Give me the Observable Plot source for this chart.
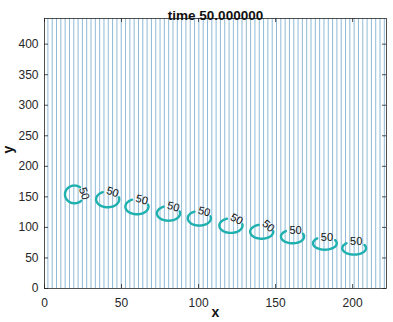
<!DOCTYPE html>
<html><head><meta charset="utf-8">
<script src="https://cdn.jsdelivr.net/npm/d3@7"></script>
<script src="https://cdn.jsdelivr.net/npm/@observablehq/plot@0.6"></script>
<style>body{margin:0;background:#fff}</style>
</head><body><div id="chart"></div>
<script>
const titleText = "time 50.000000";
const xTicks = [0, 50, 100, 150, 200];
const yTicks = [0, 50, 100, 150, 200, 250, 300, 350, 400];
const xDomain = [0, 222];
const yDomain = [0, 442];
// background contour lines (vertical)
const lineX = [2.2, 5.0, 7.8, 10.6, 13.4, 16.2, 19.0, 21.8, 24.6, 27.4, 30.2, 33.0, 35.8, 38.6, 41.4, 44.2, 47.0, 49.8, 52.6, 55.4, 58.2, 61.0, 63.8, 66.6, 69.4, 72.2, 75.0, 77.8, 80.6, 83.4, 86.2, 89.0, 91.8, 94.6, 97.4, 100.2, 103.0, 105.8, 108.6, 111.4, 114.2, 117.0, 119.8, 122.6, 125.4, 128.2, 131.0, 133.8, 136.6, 139.4, 142.2, 145.0, 147.8, 150.6, 153.4, 156.2, 159.0, 161.8, 164.6, 167.4, 170.2, 173.0, 175.8, 178.6, 181.4, 184.2, 187.0, 189.8, 192.6, 195.4, 198.2, 201.0, 203.8, 206.6, 209.4, 212.2, 215.0, 217.8, 220.6];
// contour "50" rings
const ringCx = [19.5, 41, 60, 80.5, 100.5, 121, 141, 161, 182, 201];
const ringCy = [154, 146, 134, 123, 115, 103, 93, 85, 74, 66];
const ringRx = [6.2, 7.5, 7.5, 7.5, 7.5, 7.5, 7.5, 7.5, 7.7, 7.7];
const ringRy = [14.5, 13, 12.5, 12, 12, 12, 11.5, 11, 10.5, 10.5];
const labelTheta = [5, 65, 65, 65, 65, 60, 55, 75, 80, 80];
const labelRotate = [70, 18, 15, 15, 15, 28, 40, 0, 0, 0];
const ringLabel = ["50", "50", "50", "50", "50", "50", "50", "50", "50", "50"];
const gapHalf = 50;

const rad = Math.PI / 180;
const ringPts = [];
ringCx.forEach((cx, i) => {
  for (let a = labelTheta[i] + gapHalf; a <= labelTheta[i] + 360 - gapHalf; a += 4) {
    ringPts.push({id: i, x: cx + ringRx[i] * Math.cos(a * rad), y: ringCy[i] + ringRy[i] * Math.sin(a * rad)});
  }
});
const labels = ringCx.map((cx, i) => ({
  x: cx + ringRx[i] * Math.cos(labelTheta[i] * rad),
  y: ringCy[i] + ringRy[i] * Math.sin(labelTheta[i] * rad),
  t: ringLabel[i], r: labelRotate[i]
}));

const W = 393, H = 322;
const mL = 44, mR = 7, mT = 18, mB = 34;
const tx = (xDomain[1] - xDomain[0]) * 4 / (W - mL - mR);
const ty = (yDomain[1] - yDomain[0]) * 4 / (H - mT - mB);
const axisColor = "#262626";
const font = "Liberation Sans, Arial, Helvetica, sans-serif";

const chart = Plot.plot({
  width: W, height: H,
  marginLeft: mL, marginRight: mR, marginTop: mT, marginBottom: mB,
  style: {fontFamily: font, fontSize: "12px", color: axisColor, background: "#fff"},
  x: {domain: xDomain, ticks: xTicks},
  y: {domain: yDomain, ticks: yTicks},
  marks: [
    Plot.ruleX(lineX, {stroke: "#4f92c0", strokeWidth: 0.75, strokeOpacity: 0.85}),
    Plot.line(ringPts, {x: "x", y: "y", z: "id", stroke: "#1fb0b0", strokeWidth: 2.4, curve: "catmull-rom"}),
    Plot.text(labels, {x: "x", y: "y", text: "t", rotate: "r", fontSize: 11, fill: "#111"}),
    Plot.frame({stroke: axisColor, strokeWidth: 0.8}),
    Plot.ruleY(yTicks, {x1: xDomain[0], x2: xDomain[0] + tx, stroke: axisColor, strokeWidth: 0.8}),
    Plot.ruleY(yTicks, {x1: xDomain[1] - tx, x2: xDomain[1], stroke: axisColor, strokeWidth: 0.8}),
    Plot.ruleX(xTicks, {y1: yDomain[0], y2: yDomain[0] + ty, stroke: axisColor, strokeWidth: 0.8}),
    Plot.ruleX(xTicks, {y1: yDomain[1] - ty, y2: yDomain[1], stroke: axisColor, strokeWidth: 0.8}),
    Plot.axisX({ticks: xTicks, tickSize: 0, tickPadding: 10, label: null, fontSize: 12}),
    Plot.axisY({ticks: yTicks, tickSize: 0, tickPadding: 6, label: null, fontSize: 12}),
    Plot.text(["x"], {frameAnchor: "bottom", dy: 28, fontWeight: "bold", fontSize: 14, fill: "#111"}),
    Plot.text(["y"], {frameAnchor: "left", dx: -36, rotate: -90, fontWeight: "bold", fontSize: 14, fill: "#111"}),
    Plot.text([titleText], {frameAnchor: "top", dy: -8, fontWeight: "bold", fontSize: 13.5, fill: "#111"})
  ]
});
document.getElementById("chart").appendChild(chart);
</script></body></html>
